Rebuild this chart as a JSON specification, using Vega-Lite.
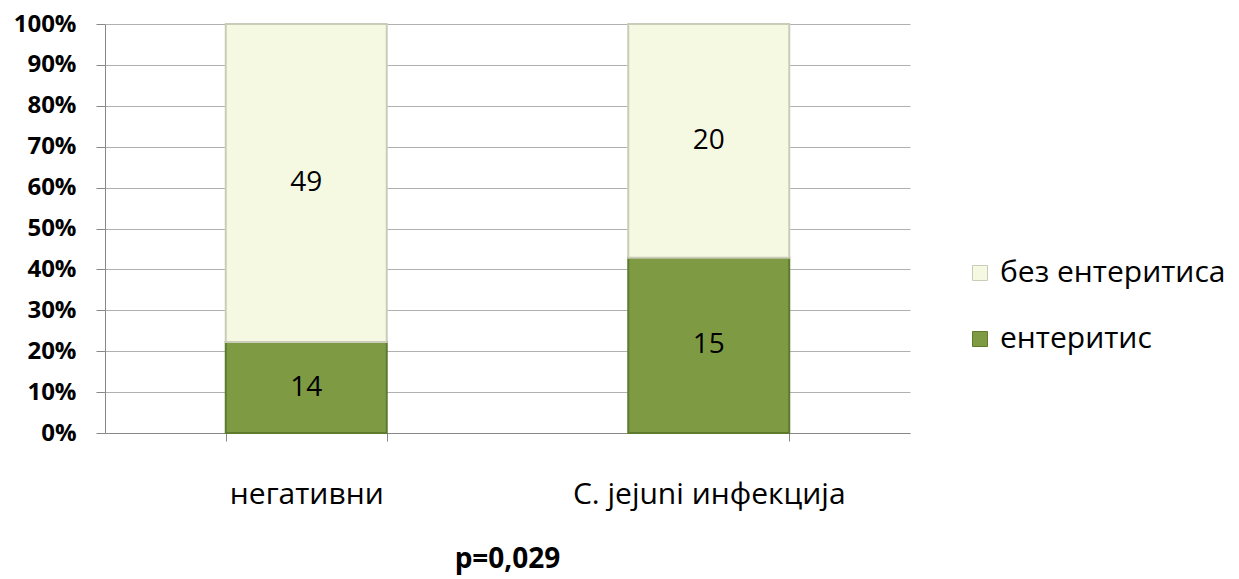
{
  "$schema": "https://vega.github.io/schema/vega-lite/v6.json",
  "width": 805,
  "height": 409,
  "autosize": {"type": "none"},
  "padding": {"left": 105, "top": 24, "right": 329, "bottom": 146},
  "background": "white",
  "config": {"view": {"stroke": null}, "font": "Open Sans"},
  "data": {
    "values": [
      {"group": "негативни", "status": "ентеритис", "count": 14},
      {"group": "негативни", "status": "без ентеритиса", "count": 49},
      {"group": "C. jejuni инфекција", "status": "ентеритис", "count": 15},
      {"group": "C. jejuni инфекција", "status": "без ентеритиса", "count": 20}
    ]
  },
  "transform": [
    {"stack": "count", "groupby": ["group"], "offset": "normalize", "sort": [{"field": "status", "order": "descending"}], "as": ["y0", "y1"]},
    {"calculate": "(datum.y0 + datum.y1) / 2", "as": "ymid"}
  ],
  "title": {
    "text": "p=0,029",
    "orient": "bottom",
    "anchor": "middle",
    "fontSize": 28,
    "fontWeight": "bold",
    "font": "Open Sans",
    "color": "#000000",
    "offset": 37
  },
  "encoding": {
    "x": {
      "field": "group",
      "type": "nominal",
      "sort": ["негативни", "C. jejuni инфекција"],
      "scale": {"paddingInner": 0.6, "paddingOuter": 0.3},
      "axis": {
        "title": null,
        "labelAngle": 0,
        "labelFont": "Open Sans",
        "labelFontSize": 30,
        "labelLimit": 500,
        "labelColor": "#000000",
        "labelPadding": 38,
        "tickBand": "extent",
        "tickSize": 8,
        "tickColor": "#888888",
        "domainColor": "#888888",
        "grid": false
      }
    }
  },
  "layer": [
    {
      "mark": {"type": "bar", "strokeWidth": 2},
      "encoding": {
        "y": {
          "field": "y0",
          "type": "quantitative",
          "scale": {"domain": [0, 1]},
          "axis": {
            "title": null,
            "format": ".0%",
            "values": [0, 0.1, 0.2, 0.3, 0.4, 0.5, 0.6, 0.7, 0.8, 0.9, 1],
            "labelFont": "Open Sans",
            "labelFontSize": 24,
            "labelFontWeight": "bold",
            "labelColor": "#000000",
            "labelPadding": 20,
            "tickSize": 9,
            "tickColor": "#888888",
            "domainColor": "#888888",
            "gridColor": "#B0B0B0",
            "gridWidth": 1
          }
        },
        "y2": {"field": "y1"},
        "color": {
          "field": "status",
          "type": "nominal",
          "scale": {"domain": ["без ентеритиса", "ентеритис"], "range": ["#F6F9E2", "#7E9B44"]},
          "legend": {
            "title": null,
            "orient": "none",
            "legendX": 860,
            "legendY": 234,
            "symbolType": "square",
            "symbolSize": 225,
            "symbolStrokeWidth": 1,
            "symbolStrokeColor": "#8A8F7A",
            "labelFont": "Open Sans",
            "labelFontSize": 30,
            "labelLimit": 500,
            "labelColor": "#000000",
            "rowPadding": 36,
            "labelOffset": 5
          }
        },
        "stroke": {
          "field": "status",
          "type": "nominal",
          "scale": {"domain": ["без ентеритиса", "ентеритис"], "range": ["#C9CCB8", "#5E7A2C"]},
          "legend": null
        }
      }
    },
    {
      "mark": {"type": "text", "fontSize": 28, "font": "Open Sans", "color": "#000000", "baseline": "middle"},
      "encoding": {
        "y": {"field": "ymid", "type": "quantitative"},
        "text": {"field": "count", "type": "quantitative"}
      }
    }
  ]
}
